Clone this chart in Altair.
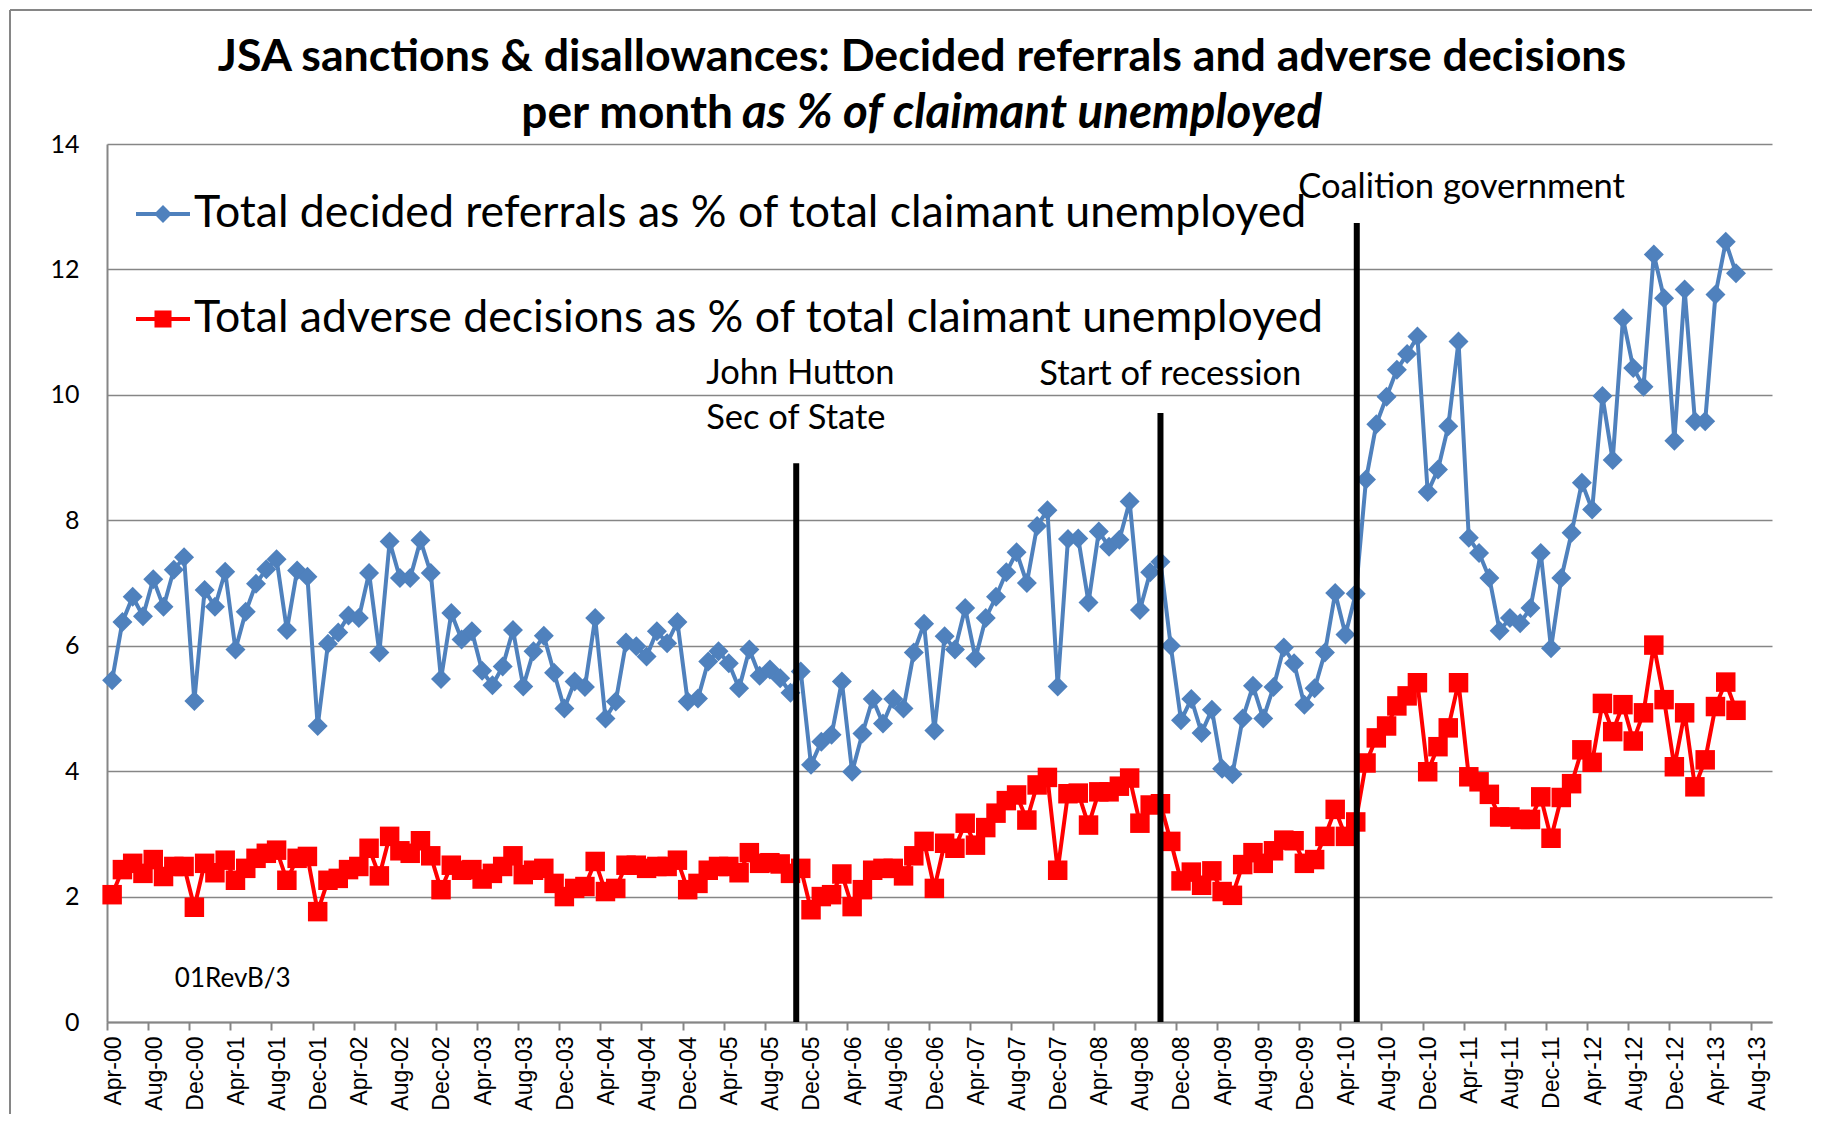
import json
import altair as alt
import pandas as pd

# ---------------- data ----------------
months = list(pd.date_range("2000-04-01", periods=159, freq="MS").strftime("%b-%y"))

referrals = [
    5.45, 6.38, 6.78, 6.47, 7.06, 6.62, 7.21, 7.41, 5.12, 6.89, 6.62, 7.18, 5.94, 6.54, 6.99, 7.22, 7.38, 6.25, 7.20, 7.10,
    4.72, 6.03, 6.21, 6.48, 6.44, 7.16, 5.89, 7.66, 7.08, 7.08, 7.68, 7.16, 5.47, 6.52, 6.10, 6.23, 5.60, 5.37, 5.67, 6.25, 5.35,
    5.91, 6.16, 5.57, 5.00, 5.43, 5.34, 6.44, 4.84, 5.11, 6.05, 5.99, 5.83, 6.23, 6.04, 6.38, 5.11, 5.16, 5.75, 5.91, 5.72,
    5.32, 5.94, 5.52, 5.62, 5.48, 5.25, 5.59, 4.10, 4.47, 4.58, 5.43, 3.99, 4.60, 5.15, 4.76, 5.15, 5.00, 5.89, 6.35, 4.65,
    6.15, 5.94, 6.60, 5.80, 6.44, 6.78, 7.17, 7.49, 7.00, 7.91, 8.16, 5.35, 7.70, 7.71, 6.69, 7.82, 7.58, 7.69, 8.30, 6.57,
    7.17, 7.34, 6.00, 4.81, 5.15, 4.61, 4.98, 4.04, 3.95, 4.84, 5.36, 4.84, 5.34, 5.97, 5.72, 5.06, 5.32, 5.89, 6.84, 6.18, 6.83,
    8.65, 9.53, 9.97, 10.40, 10.65, 10.93, 8.45, 8.81, 9.50, 10.85, 7.72, 7.48, 7.08, 6.24, 6.44, 6.36, 6.60, 7.48, 5.96,
    7.08, 7.80, 8.60, 8.17, 9.98, 8.96, 11.22, 10.43, 10.13, 12.24, 11.54, 9.27, 11.68, 9.58, 9.58, 11.60, 12.44, 11.94,
]

adverse = [
    2.03, 2.43, 2.53, 2.37, 2.59, 2.32, 2.48, 2.48, 1.83, 2.53, 2.38, 2.58, 2.26, 2.45, 2.61, 2.69, 2.74, 2.26, 2.61, 2.64,
    1.76, 2.26, 2.29, 2.43, 2.48, 2.77, 2.33, 2.96, 2.73, 2.69, 2.89, 2.65, 2.11, 2.50, 2.42, 2.43, 2.28, 2.37, 2.48, 2.65, 2.35,
    2.42, 2.45, 2.21, 2.00, 2.13, 2.16, 2.56, 2.08, 2.13, 2.50, 2.50, 2.45, 2.48, 2.48, 2.58, 2.11, 2.21, 2.42, 2.48, 2.48,
    2.38, 2.70, 2.53, 2.54, 2.52, 2.37, 2.45, 1.79, 2.00, 2.03, 2.36, 1.84, 2.11, 2.42, 2.45, 2.45, 2.33, 2.65, 2.88, 2.13,
    2.85, 2.77, 3.17, 2.82, 3.10, 3.33, 3.53, 3.62, 3.22, 3.78, 3.90, 2.42, 3.64, 3.65, 3.14, 3.67, 3.67, 3.76, 3.89, 3.17,
    3.46, 3.48, 2.88, 2.25, 2.39, 2.18, 2.41, 2.08, 2.02, 2.51, 2.70, 2.53, 2.73, 2.90, 2.89, 2.53, 2.59, 2.96, 3.39, 2.96, 3.19,
    4.13, 4.53, 4.72, 5.04, 5.20, 5.41, 3.99, 4.39, 4.69, 5.41, 3.91, 3.83, 3.63, 3.27, 3.27, 3.23, 3.23, 3.59, 2.93,
    3.58, 3.80, 4.34, 4.14, 5.08, 4.63, 5.06, 4.48, 4.93, 6.01, 5.14, 4.07, 4.93, 3.75, 4.18, 5.03, 5.42, 4.97,
]

series_names = [
    "Total decided referrals as % of total claimant unemployed",
    "Total adverse decisions as % of total claimant unemployed",
]
series_colors = ["#4F81BD", "#FF0000"]
series_shapes = ["diamond", "square"]

tick_labels = list(pd.date_range("2000-04-01", "2013-08-01", freq="4MS").strftime("%b-%y"))
tick_months = [4 * k for k in range(len(tick_labels))]  # months since Apr-00

# event lines (months since Apr-00, top value)
event_labels = ["John Hutton Sec of State", "Start of recession", "Coalition government"]
event_month = [67.06, 102.5, 121.6]
event_top = [8.91, 9.71, 12.74]

# annotations
note_text = ["John Hutton", "Sec of State", "Start of recession", "Coalition government", "01RevB/3"]
note_month = [58.3, 58.3, 90.7, 115.9, 6.6]
note_value = [10.33, 9.62, 10.31, 13.30, 0.68]
note_size = [34.5, 34.5, 34.5, 34.5, 26]

title_line1 = "JSA sanctions & disallowances: Decided referrals and adverse decisions"
title_line2a = "per month"
title_line2b = "as % of claimant unemployed"

# ---------------- tables ----------------
rows = []
for i, m in enumerate(months):
    rows.append({"month": m, "t": i + 0.5, "v": referrals[i], "series": series_names[0]})
    rows.append({"month": m, "t": i + 0.5, "v": adverse[i], "series": series_names[1]})
df = pd.DataFrame(rows)

ev = pd.DataFrame({"label": event_labels, "t": event_month, "v": event_top, "v2": [0] * 3})
notes = pd.DataFrame({"text": note_text, "t": note_month, "v": note_value, "size": note_size})

# ---------------- encodings ----------------
GRID = "#868686"
x_enc = alt.X(
    "t:Q",
    title=None,
    scale=alt.Scale(domain=[0, 162], nice=False, zero=False),
    axis=alt.Axis(
        values=tick_months,
        labelExpr=f"{json.dumps(tick_labels)}[round(datum.value/4)]",
        labelAngle=270,
        labelFont="Liberation Sans",
        labelFontSize=23,
        labelColor="black",
        labelPadding=6,
        labelOffset=6,
        tickSize=8,
        tickColor=GRID,
        tickWidth=2,
        domainColor=GRID,
        domainWidth=2,
        grid=False,
        labelOverlap=False,
    ),
)
y_enc = alt.Y(
    "v:Q",
    title=None,
    scale=alt.Scale(domain=[0, 14], nice=False),
    axis=alt.Axis(
        values=list(range(0, 15, 2)),
        grid=True,
        gridColor=GRID,
        gridWidth=1.4,
        domainColor=GRID,
        domainWidth=2,
        ticks=False,
        labelFont="Lato",
        labelFontSize=25,
        labelColor="black",
        labelPadding=28,
    ),
)
color_enc = alt.Color("series:N", scale=alt.Scale(domain=series_names, range=series_colors), legend=None)

base = alt.Chart(df)

lines = base.mark_line(strokeWidth=4).encode(x=x_enc, y=y_enc, color=color_enc, detail="series:N")

diamonds = base.transform_filter(alt.datum.series == series_names[0]).mark_point(
    shape="diamond", filled=True, size=400, opacity=1
).encode(x=x_enc, y=y_enc, color=color_enc)

squares = base.transform_filter(alt.datum.series == series_names[1]).mark_point(
    shape="square", filled=True, size=380, opacity=1
).encode(x=x_enc, y=y_enc, color=color_enc)

rules = alt.Chart(ev).mark_rule(color="black", strokeWidth=6).encode(
    x=x_enc, y=y_enc, y2="v2:Q"
)

note_big = alt.Chart(notes).transform_filter(alt.datum.size > 30).mark_text(
    align="left", baseline="middle", font="Lato", fontSize=34.5, color="black"
).encode(x=x_enc, y=y_enc, text="text:N")
note_small = alt.Chart(notes).transform_filter(alt.datum.size < 30).mark_text(
    align="left", baseline="middle", font="Lato", fontSize=26, color="black"
).encode(x=x_enc, y=y_enc, text="text:N")

# ---------------- legend (line + marker, label) ----------------
legend_layers = []
legend_row_y = [70, 175]
for name, col, shp, yy in zip(series_names, series_colors, series_shapes, legend_row_y):
    ldf = pd.DataFrame({"label": [name]})
    lc = alt.Chart(ldf)
    legend_layers.append(
        lc.mark_rule(color=col, strokeWidth=4).encode(x=alt.value(29), x2=alt.value(83), y=alt.value(yy))
    )
    legend_layers.append(
        lc.mark_point(shape=shp, filled=True, color=col, opacity=1, size=320 if shp == "diamond" else 290).encode(
            x=alt.value(56), y=alt.value(yy)
        )
    )
    legend_layers.append(
        lc.mark_text(align="left", baseline="middle", font="Lato", fontSize=44.6, color="black").encode(
            x=alt.value(87), y=alt.value(yy), text="label:N"
        )
    )

# ---------------- titles ----------------
t1 = alt.Chart(pd.DataFrame({"text": [title_line1]})).mark_text(
    align="center", baseline="middle", font="Lato", fontSize=44.7, fontWeight="bold", color="black"
).encode(text="text:N", x=alt.value(815), y=alt.value(-86))
t2a = alt.Chart(pd.DataFrame({"text": [title_line2a]})).mark_text(
    align="right", baseline="middle", font="Lato", fontSize=46, fontWeight="bold", color="black"
).encode(text="text:N", x=alt.value(626), y=alt.value(-30))
t2b = alt.Chart(pd.DataFrame({"text": [title_line2b]})).mark_text(
    align="left", baseline="middle", font="Lato", fontSize=47.5, fontWeight="bold", fontStyle="italic", color="black"
).encode(text="text:N", x=alt.value(635), y=alt.value(-30))

# chart-area frame (top and left edges, as in the original)
frame = alt.Chart(pd.DataFrame({"edge": ["top"]}))
frame_top = frame.mark_rule(color=GRID, strokeWidth=2).encode(
    x=alt.value(-97), x2=alt.value(1718), y=alt.value(-134)
)
frame_left = frame.mark_rule(color=GRID, strokeWidth=2).encode(
    x=alt.value(-97), y=alt.value(-134), y2=alt.value(970)
)

chart = (
    alt.layer(
        frame_top, frame_left, lines, diamonds, squares, rules, note_big, note_small, *legend_layers, t1, t2a, t2b
    )
    .properties(
        width=1665,
        height=878,
        autosize=alt.AutoSizeParams(type="none"),
        padding={"left": 99, "top": 136, "right": 40, "bottom": 92},
        background="white",
    )
    .configure_view(stroke=None)
)

chart.save("out.html", embed_options={"renderer": "svg", "actions": False})
